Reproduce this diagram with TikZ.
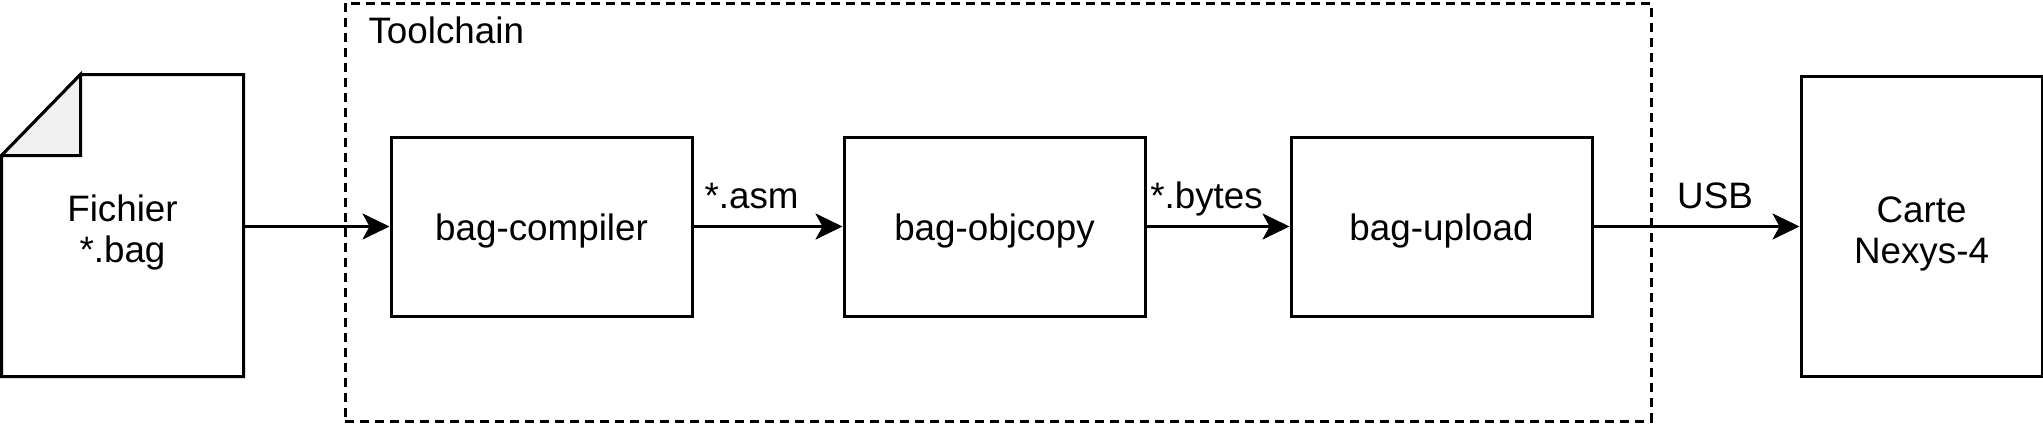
\documentclass[tikz,border=0pt]{standalone}
\usepackage{fontspec}
\setmainfont{Liberation Sans}
\usetikzlibrary{arrows.meta, calc}
\definecolor{jet}{HTML}{000000}
\definecolor{fold-grey}{HTML}{F0F0F0}

\begin{document}
\begin{tikzpicture}[x=0.5pt, y=-0.5pt, line width=1.5pt, color=jet,
  every node/.style={font=\fontsize{18.4pt}{20.5pt}\selectfont, align=center,
    inner sep=0pt, text height=17pt, text depth=3.2pt},
  twolines/.style={text height=39.7pt, text depth=3.2pt},
  tool/.style={draw, minimum width=150.5pt, minimum height=89.5pt},
  flow/.style={-{Stealth[length=13.5pt, width=13pt, inset=3.5pt]}},
  flowlabel/.style={anchor=base, yshift=9pt}]
  \useasboundingbox (0,0) rectangle (2043,423);
  % toolchain frame
  \node[draw, dash pattern=on 4.5pt off 3pt, minimum width=653pt, minimum height=209pt] (chain) at (998,212) {};
  \node[anchor=base west] (chaintitle) at (367,43) {Toolchain};
  % input file
  \node[twolines, minimum width=119.5pt, minimum height=149.5pt] (file) at (122.5,225.5) {Fichier\\*.bag};
  \draw[line join=miter] ($(file.north west)+(0,81)$) -- ($(file.north west)+(79,0)$) -- (file.north east)
    -- (file.south east) -- (file.south west) -- cycle;
  \draw[fill=fold-grey, line join=miter] ($(file.north west)+(0,81)$) -- ($(file.north west)+(79,0)$)
    -- ($(file.north west)+(79,81)$) -- cycle;
  % tools
  \node[tool] (compiler) at (541.5,226.5) {bag-compiler};
  \node[tool] (objcopy) at (994.5,226.5) {bag-objcopy};
  \node[tool] (upload) at (1441.5,226.5) {bag-upload};
  % board
  \node[draw, twolines, minimum width=120.5pt, minimum height=150pt] (board) at (1921.5,226.5) {Carte\\Nexys-4};
  % connectors
  \draw[flow] (file.east |- compiler.west) -- (compiler.west);
  \draw[flow] (compiler.east) -- (objcopy.west) node[flowlabel, pos=0.39] {*.asm};
  \draw[flow] (objcopy.east) -- (upload.west) node[flowlabel, pos=0.42] {*.bytes};
  \draw[flow] (upload.east) -- (board.west) node[flowlabel, pos=0.59] {USB};
\end{tikzpicture}
\end{document}
